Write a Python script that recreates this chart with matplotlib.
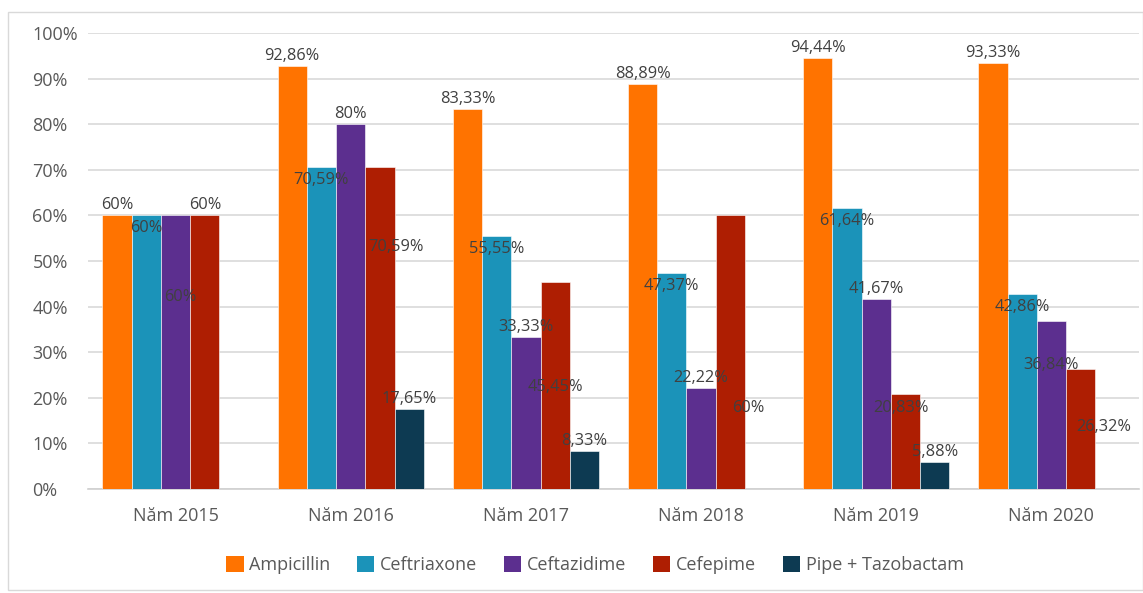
import matplotlib
matplotlib.use("Agg")
import matplotlib.pyplot as plt
from matplotlib.patches import Rectangle, Patch
import numpy as np

# ---------------- data ----------------
years = ["Năm 2015", "Năm 2016", "Năm 2017", "Năm 2018", "Năm 2019", "Năm 2020"]
series_names = ["Ampicillin", "Ceftriaxone", "Ceftazidime", "Cefepime", "Pipe + Tazobactam"]
ampicillin = [60, 92.86, 83.33, 88.89, 94.44, 93.33]
ceftriaxone = [60, 70.59, 55.55, 47.37, 61.64, 42.86]
ceftazidime = [60, 80, 33.33, 22.22, 41.67, 36.84]
cefepime = [60, 70.59, 45.45, 60, 20.83, 26.32]
pipe_tazo = [0, 17.65, 8.33, 0, 5.88, 0]
yticks = [0, 10, 20, 30, 40, 50, 60, 70, 80, 90, 100]

# ---------------- style ----------------
colors = ["#FF7300", "#1B93B9", "#5C2F8F", "#AE1E02", "#0D3A52"]
label_mode = ["out", "in", "out", "out", "out"]
# manually moved labels: (series index, year index) -> (x offset in bar widths, y value)
label_override = {
    (2, 0): (0.17, 42.0),
    (2, 5): (0.0, 27.2),
    (3, 1): (0.55, 53.1),
    (3, 2): (0.0, 22.4),
    (3, 3): (0.6, 17.8),
    (3, 4): (-0.17, 17.8),
    (3, 5): (0.8, 13.6),
}
FONT = "Open Sans"
plt.rcParams["font.family"] = [FONT, "DejaVu Sans"]

W, H = 1143, 593
fig = plt.figure(figsize=(W / 100, H / 100), dpi=100)
ax = fig.add_axes([88 / W, 1 - 489 / H, (1139 - 88) / W, (489 - 33) / H])

data = [ampicillin, ceftriaxone, ceftazidime, cefepime, pipe_tazo]
x = np.arange(len(years))
bw = 0.167
n = len(data)

def fmt(v):
    if abs(v - round(v)) < 1e-9:
        return f"{int(round(v))}%"
    return f"{v:.2f}".replace(".", ",") + "%"

px_per_unit = (489 - 33) / 100.0  # pixels per percentage point
for i, (vals, c) in enumerate(zip(data, colors)):
    xs = x + (i - (n - 1) / 2) * bw
    ax.bar(xs, vals, width=bw, color=c, edgecolor="white", linewidth=0.4, zorder=3)
    for j, (xx, v) in enumerate(zip(xs, vals)):
        if v == 0:
            continue
        if (i, j) in label_override:
            dx, yv = label_override[(i, j)]
            tx, ty = xx + dx * bw, yv
        elif label_mode[i] == "out":
            tx, ty = xx, v + 10 / px_per_unit
        else:
            tx, ty = xx, v - 13 / px_per_unit
        ax.text(tx, ty, fmt(v), ha="center", va="center", fontsize=11.8,
                color="#404040", zorder=5)

ax.set_xlim(-0.5, len(years) - 0.5)
ax.set_ylim(0, 100)
ax.set_yticks(yticks)
ax.set_yticklabels([f"{t}%" for t in yticks], ha="left")
ax.set_xticks(x)
ax.set_xticklabels(years)
ax.tick_params(axis="both", length=0, labelsize=13, colors="#595959")
ax.tick_params(axis="y", pad=40)
ax.tick_params(axis="x", pad=13)
ax.grid(axis="y", color="#D9D9D9", linewidth=1.2, zorder=0)
ax.set_axisbelow(True)
for s in ["top", "right", "left"]:
    ax.spines[s].set_visible(False)
ax.spines["bottom"].set_color("#D0D0D0")
ax.spines["bottom"].set_linewidth(1.2)

handles = [Patch(facecolor=c, edgecolor="none") for c in colors]
leg = fig.legend(handles, series_names, loc="center", bbox_to_anchor=(595 / W, 1 - 565 / H),
                 ncol=5, frameon=False, fontsize=13, handlelength=0.95, handleheight=0.95,
                 handletextpad=0.3, columnspacing=1.5)
for t in leg.get_texts():
    t.set_color("#595959")

fig.add_artist(Rectangle((8 / W, 3 / H), (W - 8) / W, (H - 15) / H, transform=fig.transFigure,
                         fill=False, edgecolor="#D9D9D9", linewidth=1))

fig.savefig("out.png", dpi=100, facecolor="white")
